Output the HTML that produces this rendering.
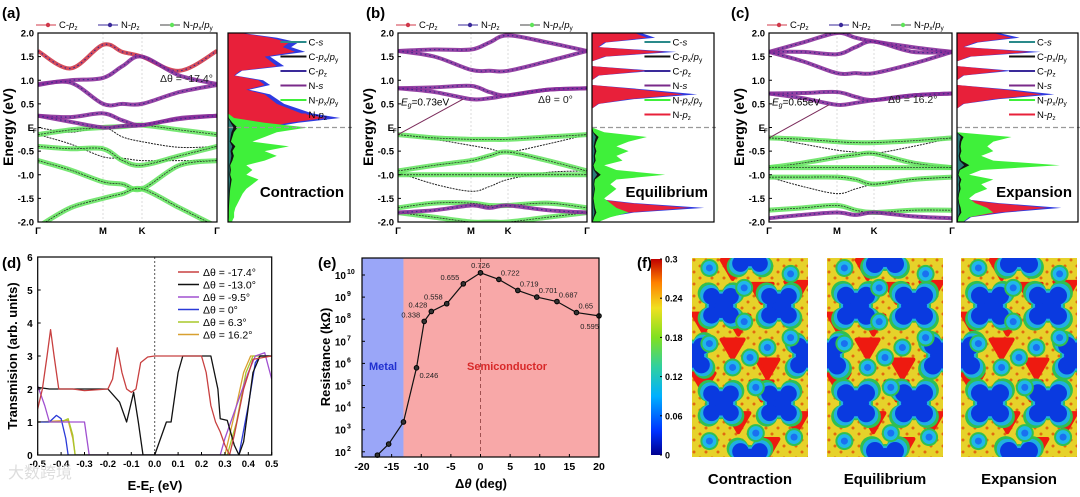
<!DOCTYPE html>
<html><head><meta charset="utf-8">
<style>
html,body{margin:0;padding:0;background:#fff;}
svg{display:block;font-family:"Liberation Sans",Arial,sans-serif;}
</style></head>
<body>
<svg id="fig" width="1080" height="497" viewBox="0 0 1080 497" xmlns="http://www.w3.org/2000/svg">
<g id="g"></g>
</svg>
<script>
// ---------------- DATA ----------------
const bandsA_cond=[[1.62,1.25,1.75,1.6,1.5,1.2,1.62],[0.92,1.0,1.05,1.3,1.5,1.1,0.92],[0.9,0.95,0.5,0.5,0.5,0.75,0.9],[0.25,0.22,0.3,0.15,0.05,0.2,0.25],[0.25,0.12,0.0,0.03,0.05,0.18,0.25]];
const bandsA_val=[[-0.15,-0.05,0,0.02,0.05,-0.05,-0.15],[-0.4,-0.45,-0.45,-0.7,-0.8,-0.6,-0.4],[-0.7,-0.9,-1.15,-1.2,-1.3,-0.8,-0.7],[-2.1,-1.7,-1.5,-1.4,-1.3,-1.7,-2.1]];
const bandsA_thin=[[-0.15,-0.35,-0.62,-0.65,-0.7,-0.7,-0.7],[0.0,-0.1,0.0,-0.2,-0.3,-0.42,-0.4]];
const bandsB_cond=[[1.62,1.65,1.65,1.8,1.95,1.8,1.62],[1.62,1.5,1.22,1.2,1.2,1.4,1.62],[0.83,0.85,0.88,0.75,0.68,0.8,0.83],[0.83,0.75,0.6,0.62,0.68,0.8,0.83],[-1.8,-1.75,-1.65,-1.7,-1.65,-1.75,-1.8]];
const bandsB_val=[[-0.15,-0.22,-0.25,-0.25,-0.25,-0.2,-0.15],[-0.92,-0.8,-0.7,-0.6,-0.52,-0.7,-0.92],[-1.0,-1.0,-1.0,-1.0,-1.0,-1.0,-1.0],[-1.7,-1.6,-1.6,-1.65,-1.65,-1.6,-1.7],[-1.8,-1.9,-2.0,-2.0,-2.0,-1.9,-1.8]];
const bandsB_thin=[[-0.15,-0.25,-0.38,-0.45,-0.52,-0.35,-0.15],[-0.95,-1.2,-1.35,-1.25,-1.1,-0.95,-0.92]];
const bandsC_cond=[[1.6,1.8,2.0,1.9,1.82,1.7,1.6],[1.6,1.6,1.55,1.7,1.82,1.6,1.6],[1.6,1.4,1.15,1.15,1.15,1.35,1.6],[0.72,0.73,0.75,0.65,0.58,0.68,0.72],[0.72,0.62,0.48,0.52,0.58,0.68,0.72],[-1.92,-1.85,-1.8,-1.85,-1.8,-1.88,-1.92]];
const bandsC_val=[[-0.22,-0.25,-0.3,-0.32,-0.32,-0.28,-0.22],[-0.85,-0.75,-0.63,-0.58,-0.55,-0.75,-0.85],[-0.85,-0.85,-0.85,-0.85,-0.85,-0.85,-0.85],[-1.05,-1.05,-1.05,-1.1,-1.2,-1.1,-1.05],[-1.75,-1.7,-1.65,-1.75,-1.8,-1.75,-1.75]];
const bandsC_thin=[[-0.22,-0.35,-0.48,-0.52,-0.55,-0.4,-0.22],[-1.05,-1.25,-1.4,-1.3,-1.2,-1.1,-1.05]];
// DOS profiles, energies 2.0 -> -2.0 step 0.1
const dosA_red=[0.1,0.35,0.5,0.45,0.55,0.3,0.35,0.4,0.1,0.05,0.25,0.3,0.15,0.3,0.35,0.4,0.5,0.6,0.8,0.5,0.3,0.05,0.05,0.04,0.04,0.03,0.03,0.03,0.03,0.03,0.03,0.03,0.03,0.03,0.03,0.03,0.03,0.03,0.03,0.03,0.03];
const dosA_green=[0,0,0,0,0,0,0,0,0,0,0,0,0,0,0,0,0,0,0.05,0.3,0.65,0.4,0.3,0.2,0.5,0.3,0.4,0.3,0.15,0.2,0.15,0.25,0.2,0.15,0.12,0.1,0.08,0.06,0.05,0.05,0.03];
const dosB_red=[0.35,0.45,0.1,0.05,0.6,0.1,0,0,0.45,0.05,0,0,0.4,0.75,0.3,0.05,0,0,0,0,0,0,0,0,0,0,0,0,0,0,0,0,0,0,0,0,0.3,0.8,0.3,0.1,0.05];
const dosB_green=[0,0,0,0,0,0,0,0,0,0,0,0,0,0,0,0,0,0,0,0,0,0.1,0.45,0.3,0.2,0.3,0.2,0.25,0.1,0.2,0.6,0.2,0.15,0.2,0.15,0.1,0.15,0.2,0.3,0.15,0.05];
const dosC_red=[0.3,0.45,0.15,0.05,0.6,0.1,0,0,0.4,0.05,0,0,0.4,0.7,0.3,0.05,0,0,0,0,0,0,0,0,0,0,0,0,0,0,0,0,0,0,0,0,0.3,0.75,0.35,0.1,0.05];
const dosC_green=[0,0,0,0,0,0,0,0,0,0,0,0,0,0,0,0,0,0,0,0,0,0,0.45,0.3,0.25,0.3,0.2,0.3,0.85,0.2,0.1,0.3,0.2,0.25,0.15,0.1,0.15,0.25,0.3,0.1,0.05];
// Panel d
const tX_red=[-0.5,-0.48,-0.46,-0.445,-0.43,-0.41,-0.35,-0.3,-0.2,-0.18,-0.16,-0.14,-0.12,-0.1,-0.08,-0.06,-0.03,0,0.2,0.22,0.24,0.26,0.28,0.3,0.32,0.34,0.38,0.42,0.5];
const tY_red=[1.4,2.0,3.0,3.8,3.0,2.0,2.0,1.95,2.0,2.3,3.25,2.5,2.0,1.9,2.0,2.8,2.97,3.0,3.0,2.5,1.5,1.0,0.7,0.3,0.0,0.6,2.0,2.9,3.0];
const tX_black=[-0.5,-0.45,-0.2,-0.15,-0.12,-0.09,-0.07,-0.05,-0.01,0.0,0.05,0.07,0.1,0.12,0.24,0.27,0.28,0.31,0.34,0.36,0.38,0.42,0.45,0.5];
const tY_black=[2.05,2.0,2.0,1.6,1.0,1.9,1.0,0.0,0.0,0.0,1.0,1.0,2.5,3.0,3.0,2.0,1.1,1.05,0.3,0.0,0.4,2.5,3.0,3.0];
const tX_purple=[-0.5,-0.47,-0.45,-0.3,-0.29,-0.28,0.28,0.3,0.35,0.4,0.43,0.47,0.5];
const tY_purple=[2.1,1.5,1.0,1.0,0.5,0.0,0.0,0.5,1.5,2.5,3.0,3.1,2.3];
const tX_blue=[-0.5,-0.45,-0.42,-0.4,-0.38,-0.37,0.36,0.4,0.43,0.45,0.5];
const tY_blue=[1.0,1.0,1.2,1.1,0.5,0.0,0.0,1.5,2.8,3.0,3.0];
const tX_lime=[-0.5,-0.4,-0.37,-0.35,-0.34,0.31,0.35,0.39,0.42,0.5];
const tY_lime=[1.0,1.0,1.1,0.6,0.0,0.0,1.0,2.5,3.0,3.0];
const tX_orange=[-0.5,-0.37,-0.35,-0.34,0.3,0.34,0.38,0.41,0.5];
const tY_orange=[1.0,1.05,0.5,0.0,0.0,1.2,2.5,3.0,3.0];
const tLegend=["\u0394\u03b8 = -17.4\u00b0","\u0394\u03b8 = -13.0\u00b0","\u0394\u03b8 = -9.5\u00b0","\u0394\u03b8 = 0\u00b0","\u0394\u03b8 = 6.3\u00b0","\u0394\u03b8 = 16.2\u00b0"];
const tXTicks=[-0.5,-0.4,-0.3,-0.2,-0.1,0.0,0.1,0.2,0.3,0.4,0.5];
const tYTicks=[0,1,2,3,4,5,6];
// Panel e
const rTheta=[-17.4,-15.5,-13,-10.8,-9.5,-8.3,-5.7,-2.9,0,3.1,6.3,9.5,12.9,16.2,20];
const rLog=[1.85,2.35,3.35,5.8,7.9,8.35,8.7,9.6,10.1,9.8,9.3,9.0,8.8,8.3,8.15];
const rGap=["","","","0.246","0.338","0.428","0.558","0.655","0.726","0.722","0.719","0.701","0.687","0.65","0.595"];
const rXTicks=[-20,-15,-10,-5,0,5,10,15,20];
const rYTicks=[2,3,4,5,6,7,8,9,10];
const cbTicks=["0","0.06","0.12","0.18","0.24","0.3"];

// ---------------- HELPERS ----------------
const NS="http://www.w3.org/2000/svg";
const G=document.getElementById('g');
function mk(tag,attrs,parent){const e=document.createElementNS(NS,tag);for(const k in attrs)e.setAttribute(k,attrs[k]);(parent||G).appendChild(e);return e;}
function txt(x,y,s,size,opts,parent){opts=opts||{};const t=mk('text',Object.assign({x:x,y:y,'font-size':size,fill:opts.fill||'#000','text-anchor':opts.anchor||'start','font-weight':opts.weight||'normal'},opts.extra||{}),parent);t.textContent=s;return t;}
function smooth(pts){let d='M'+pts[0][0]+','+pts[0][1];for(let i=0;i<pts.length-1;i++){const p0=pts[Math.max(0,i-1)],p1=pts[i],p2=pts[i+1],p3=pts[Math.min(pts.length-1,i+2)];const c1=[p1[0]+(p2[0]-p0[0])/6,p1[1]+(p2[1]-p0[1])/6],c2=[p2[0]-(p3[0]-p1[0])/6,p2[1]-(p3[1]-p1[1])/6];d+=' C'+c1[0]+','+c1[1]+' '+c2[0]+','+c2[1]+' '+p2[0]+','+p2[1];}return d;}
function lin(pts){return 'M'+pts.map(p=>p[0]+','+p[1]).join(' L');}

// ---------------- BAND PANELS ----------------
const panels=[
 {lab:'(a)',lx:2,x0:38,x1:217,M:103,K:142,d0:228,d1:350,cond:bandsA_cond,val:bandsA_val,thin:bandsA_thin,red:dosA_red,green:dosA_green,name:'Contraction',ang:'\u0394\u03b8 = -17.4\u00b0',angx:160,angy:82,eg:null},
 {lab:'(b)',lx:366,x0:398,x1:587,M:471,K:508,d0:592,d1:714,cond:bandsB_cond,val:bandsB_val,thin:bandsB_thin,red:dosB_red,green:dosB_green,name:'Equilibrium',ang:'\u0394\u03b8 = 0\u00b0',angx:538,angy:103,eg:'0.73eV',egE:0.6},
 {lab:'(c)',lx:731,x0:769,x1:952,M:837,K:874,d0:957,d1:1078,cond:bandsC_cond,val:bandsC_val,thin:bandsC_thin,red:dosC_red,green:dosC_green,name:'Expansion',ang:'\u0394\u03b8 = 16.2\u00b0',angx:888,angy:103,eg:'0.65eV',egE:0.48}
];
const Ey=E=>127.5-E*47.25;
panels.forEach((p,pi)=>{
  const grp=mk('g',{});
  
  
  txt(p.lx,18,p.lab,15,{weight:'bold'},grp);
  const kx=[p.x0,(p.x0+p.M)/2,p.M,(p.M+p.K)/2,p.K,(p.K+p.x1)/2,p.x1];
  const cid='clip'+pi;
  const cp=mk('clipPath',{id:cid},grp);mk('rect',{x:p.x0,y:33,width:p.x1-p.x0,height:189},cp);
  const bg=mk('g',{'clip-path':'url(#'+cid+')'},grp);
  [p.M,p.K].forEach(x=>mk('line',{x1:x,y1:33,x2:x,y2:222,stroke:'#ccc','stroke-dasharray':'2,2','stroke-width':0.7},bg));
  p.thin.forEach(b=>{const e=mk('path',{d:smooth(b.map((E,i)=>[kx[i],Ey(E)])),fill:'none',stroke:'#222','stroke-width':1,'stroke-dasharray':'2,1'},bg);});
  p.val.forEach(b=>{const d=smooth(b.map((E,i)=>[kx[i],Ey(E)]));
    const e=mk('path',{d:d,fill:'none',stroke:'#5fe35a','stroke-width':5,opacity:0.85},bg);
    mk('path',{d:d,fill:'none',stroke:'#222','stroke-width':0.7,'stroke-dasharray':'2,1'},bg);});
  p.cond.forEach((b,bi)=>{const d=smooth(b.map((E,i)=>[kx[i],Ey(E)]));
    const e=mk('path',{d:d,fill:'none',stroke:bi==0&&pi==0?'#d0384a':'#8a2f9a','stroke-width':4,opacity:0.9},bg);
    mk('path',{d:d,fill:'none',stroke:'#3a2a8a','stroke-width':1.2,'stroke-dasharray':'1.5,3'},bg);});
  if(p.eg){mk('line',{x1:p.x0,y1:Ey(-0.15-(pi==2?0.07:0)),x2:p.M-8,y2:Ey(p.egE),stroke:'#7a2a5a','stroke-width':1},grp);
    const t=txt(p.x0+3,Ey(0.55)+4,'',10,{},grp);t.innerHTML='<tspan font-style="italic">E</tspan><tspan font-size="7" dy="2" font-style="italic">g</tspan><tspan dy="-2">='+p.eg+'</tspan>';}
  txt(p.angx,p.angy,p.ang,10.5,{fill:'#222'},grp);
  mk('rect',{x:p.x0,y:33,width:p.x1-p.x0,height:189,fill:'none',stroke:'#000','stroke-width':1.2},grp);
  [2,1.5,1,0.5,0,-0.5,-1,-1.5,-2].forEach(E=>{const y=Ey(E);mk('line',{x1:p.x0,y1:y,x2:p.x0+3,y2:y,stroke:'#000'},grp);
    txt(p.x0-4,y+3.5,E==0?'E':E.toFixed(1),9.5,{anchor:'end',weight:'bold'},grp);
    if(E==0)txt(p.x0-5,y+5.5,'F',6,{weight:'bold'},grp);});
  txt(0,0,'Energy (eV)',14,{weight:'bold',anchor:'middle',extra:{transform:'translate('+(p.x0-25)+',127) rotate(-90)'}},grp);
  [[p.x0,'\u0393'],[p.M,'M'],[p.K,'K'],[p.x1,'\u0393']].forEach(a=>txt(a[0],234,a[1],9.5,{anchor:'middle',weight:'bold'},grp));
  const lg=[['#d0384a','C-p','z'],['#3a2a9a','N-p','z'],['#5fe35a','N-p','x/py']];
  lg.forEach((l,i)=>{const x=p.x0-2+i*62;const le=mk('g',{},grp);
    mk('line',{x1:x,y1:25,x2:x+20,y2:25,stroke:i==2?'#444':l[0],'stroke-width':1},le);mk('circle',{cx:x+12,cy:25,r:2.2,fill:l[0]},le);
    const t=txt(x+23,28,'',9.5,{},le);t.innerHTML=l[1].replace('p','<tspan font-style="italic">p</tspan>')+'<tspan font-size="6.5" dy="2">'+(i==2?'x':l[2])+'</tspan>'+(i==2?'<tspan dy="-2">/</tspan><tspan font-style="italic">p</tspan><tspan font-size="6.5" dy="2">y</tspan>':'');});
  // DOS
  const W=p.d1-p.d0;const dx=v=>p.d0+v*W;const ys=p.red.map((v,i)=>Ey(2-i*0.1));
  const shape=(arr,sc)=>{let pts=arr.map((v,i)=>[dx(v*sc),ys[i]]);return lin(pts)+' L'+p.d0+','+ys[ys.length-1]+' L'+p.d0+','+ys[0]+' Z';};
  const dc='dclip'+pi;const dcp=mk('clipPath',{id:dc},grp);mk('rect',{x:p.d0,y:33,width:W,height:189},dcp);
  const dg=mk('g',{'clip-path':'url(#'+dc+')'},grp);
  let e=mk('path',{d:shape(p.red,1.15),fill:'#2f3ae0','stroke-linejoin':'round'},dg);
  e=mk('path',{d:shape(p.red,1),fill:'#e8203a'},dg);
  e=mk('path',{d:shape(p.green,1),fill:'#3ff03a'},dg);
  mk('path',{d:shape(p.green,0.12),fill:'#111'},dg);mk('path',{d:shape(p.green,0.07),fill:'#2a7a78'},dg);
  mk('line',{x1:p.d0,y1:Ey(0),x2:p.d1+2,y2:Ey(0),stroke:'#999','stroke-dasharray':'5,3','stroke-width':1.2},grp);
  mk('rect',{x:p.d0,y:33,width:W,height:189,fill:'none',stroke:'#000','stroke-width':1.2},grp);
  const dl=[['#2a8a8a','C-','s',''],['#111','C-','p','x/py'],['#3a2a9a','C-','p','z'],['#7a2a8a','N-','s',''],['#3ff03a','N-','p','x/py'],['#e8203a','N-','p','z']];
  dl.forEach((l,i)=>{const y=42+i*14.5;const lx=p.d0+W*0.43;const le=mk('g',{},grp);
    mk('line',{x1:lx,y1:y,x2:lx+26,y2:y,stroke:l[0],'stroke-width':2},le);
    const t=txt(lx+28,y+3.5,'',9.5,{},le);let h=l[1]+'<tspan font-style="italic">'+l[2]+'</tspan>';
    if(l[3]=='z')h+='<tspan font-size="6.5" dy="2">z</tspan>';if(l[3]=='x/py')h+='<tspan font-size="6.5" dy="2">x</tspan><tspan dy="-2">/</tspan><tspan font-style="italic">p</tspan><tspan font-size="6.5" dy="2">y</tspan>';t.innerHTML=h;});
  txt(p.d1-6,197,p.name,15,{anchor:'end',weight:'bold'},grp);
});

// ---------------- PANEL D ----------------
(function(){
 const gd=mk('g',{});
 const X0=37.7,X1=271.7,Y0=455,Y1=257;
 const sx=v=>X0+(v+0.5)/1*(X1-X0),sy=v=>Y0-v/6*(Y0-Y1);
 txt(2,268,'(d)',15,{weight:'bold'},gd);
 mk('line',{x1:sx(0),y1:Y1,x2:sx(0),y2:Y0,stroke:'#555','stroke-dasharray':'2,2'},gd);
 const cid='dclipT';const cp=mk('clipPath',{id:cid},gd);mk('rect',{x:X0,y:Y1,width:X1-X0,height:Y0-Y1},cp);
 const lg=mk('g',{'clip-path':'url(#'+cid+')'},gd);
 const series=[[tX_orange,tY_orange,'#d8a030'],[tX_lime,tY_lime,'#a8c82a'],[tX_blue,tY_blue,'#2a3ad8'],[tX_purple,tY_purple,'#a050d0'],[tX_black,tY_black,'#111'],[tX_red,tY_red,'#c84040']];
 series.forEach(s=>{const e=mk('path',{d:lin(s[0].map((x,i)=>[sx(x),sy(s[1][i])])),fill:'none',stroke:s[2],'stroke-width':1.3,'stroke-linejoin':'round'},lg);});
 mk('rect',{x:X0,y:Y1,width:X1-X0,height:Y0-Y1,fill:'none',stroke:'#000','stroke-width':1.2},gd);
 tXTicks.forEach(v=>{mk('line',{x1:sx(v),y1:Y0,x2:sx(v),y2:Y0-3,stroke:'#000'},gd);txt(sx(v),Y0+12,v.toFixed(1),9.5,{anchor:'middle',weight:'bold'},gd);});
 tYTicks.forEach(v=>{mk('line',{x1:X0,y1:sy(v),x2:X0+3,y2:sy(v),stroke:'#000'},gd);txt(X0-5,sy(v)+4,String(v),10,{anchor:'end',weight:'bold'},gd);});
 txt(0,0,'Transmision (arb. units)',13,{weight:'bold',anchor:'middle',extra:{transform:'translate(17,356) rotate(-90)'}},gd);
 const xl=txt(155,490,'E-E',13,{weight:'bold',anchor:'middle'},gd);xl.innerHTML='E-E<tspan font-size="8" dy="3">F</tspan><tspan dy="-3"> (eV)</tspan>';
 const lc=['#c84040','#111','#a050d0','#2a3ad8','#a8c82a','#d8a030'];
 tLegend.forEach((s,i)=>{const y=272+i*12.5;const le=mk('g',{},gd);
   mk('line',{x1:178,y1:y,x2:199,y2:y,stroke:lc[i],'stroke-width':1.5},le);txt(203,y+4,s,10.5,{},le);});
 txt(8,478,'\u5927\u6570\u8de8\u5883',16,{fill:'#ddd',extra:{'font-family':'"Noto Sans CJK SC",sans-serif'}},gd);
})();

// ---------------- PANEL E ----------------
(function(){
 const ge=mk('g',{});
 const X0=362,X1=599,Y0=457,Y1=258;
 const sx=v=>X0+(v+20)/40*(X1-X0),sy=v=>275+(10-v)*22.1;
 txt(318,268,'(e)',15,{weight:'bold'},ge);
 let r=mk('rect',{x:X0,y:Y1,width:sx(-13)-X0,height:Y0-Y1,fill:'#9aa6f8'},ge);
 r=mk('rect',{x:sx(-13),y:Y1,width:X1-sx(-13),height:Y0-Y1,fill:'#f8a8a8'},ge);
 mk('line',{x1:sx(0),y1:Y1,x2:sx(0),y2:Y0,stroke:'#a05050','stroke-dasharray':'4,3'},ge);
 txt(369,370,'Metal',11,{fill:'#2030d0',weight:'bold'},ge);
 txt(467,370,'Semiconductor',11,{fill:'#d82828',weight:'bold'},ge);
 const l=mk('path',{d:'M'+rTheta.map((t,i)=>sx(t)+','+sy(rLog[i])).join(' L'),fill:'none',stroke:'#111','stroke-width':1.2},ge);
 
 rTheta.forEach((t,i)=>{const c=mk('circle',{cx:sx(t),cy:sy(rLog[i]),r:2.3,fill:'#333',stroke:'#000'},ge);
   if(rGap[i]){let dx=-4,dy=-4,a='end';if(i==3){dx=3;dy=10;a='start';}if(i==8){dx=0;dy=-5;a='middle';}if(i>8){dx=2;dy=-4;a='start';}if(i==14){dx=0;dy=13;a='end';}
   txt(sx(t)+dx,sy(rLog[i])+dy,rGap[i],7.5,{anchor:a,fill:'#222'},ge);}});
 mk('rect',{x:X0,y:Y1,width:X1-X0,height:Y0-Y1,fill:'none',stroke:'#000','stroke-width':1.2},ge);
 rXTicks.forEach(v=>{mk('line',{x1:sx(v),y1:Y0,x2:sx(v),y2:Y0-3,stroke:'#000'},ge);txt(sx(v),Y0+13,String(v),10.5,{anchor:'middle',weight:'bold'},ge);});
 rYTicks.forEach(v=>{mk('line',{x1:X0,y1:sy(v),x2:X0+3,y2:sy(v),stroke:'#000'},ge);txt(X0-16,sy(v)+4,'10',10,{anchor:'end',weight:'bold'},ge);txt(X0-15,sy(v)-1,String(v),7,{weight:'bold'},ge);});
 txt(0,0,'Resistance (k\u03a9)',13,{weight:'bold',anchor:'middle',extra:{transform:'translate(330,357) rotate(-90)'}},ge);
 const xl=txt(481,488,'',13,{weight:'bold',anchor:'middle'},ge);xl.innerHTML='\u0394<tspan font-style="italic">\u03b8</tspan> (deg)';
})();

// ---------------- PANEL F ----------------
(function(){
 const gf=mk('g',{});
 txt(637,268,'(f)',15,{weight:'bold'},gf);
 const defs=mk('defs',{},gf);
 const lgr=mk('linearGradient',{id:'cb',x1:0,y1:1,x2:0,y2:0},defs);
 [['0','#00008f'],['0.12','#0030ff'],['0.3','#00b0ff'],['0.45','#30d0a0'],['0.6','#80e020'],['0.75','#f0e020'],['0.88','#ff8000'],['1','#c00000']].forEach(s=>mk('stop',{offset:s[0],'stop-color':s[1]},lgr));
 const cb=mk('rect',{x:651,y:259,width:11,height:196,fill:'url(#cb)'},gf);
 cbTicks.forEach((s,i)=>{const y=455-i*39.2;mk('line',{x1:660,y1:y,x2:662,y2:y,stroke:'#000'},gf);txt(665,y+3.5,s,9,{weight:'bold'},gf);});
 const maps=[[692,'Contraction'],[827,'Equilibrium'],[961,'Expansion']];
 const cross=[[0.25,0.24],[0.75,0.24],[0.25,0.73],[0.75,0.73],[0.5,-0.02],[0.5,1.02],[0,0.49],[1,0.49]];
 const circ=[[0.45,0.15],[0.15,0.05],[0.85,0.08],[0.15,0.43],[0.5,0.5],[0.85,0.4],[0.35,0.55],[0.65,0.45],[0.15,0.92],[0.55,0.88],[0.88,0.9],[0.45,0.32],[0.55,0.65]];
 const tri=[[0.1,0.32],[0.4,0.33],[0.6,0.17],[0.9,0.16],[0.1,0.62],[0.4,0.82],[0.6,0.66],[0.9,0.82],[0.35,0.05],[0.65,0.95],[0.35,0.45],[0.65,0.55]];
 maps.forEach((m,mi)=>{
  const X=m[0],Y=258,W=116,H=199;const cid='fclip'+mi;const cp=mk('clipPath',{id:cid},gf);mk('rect',{x:X,y:Y,width:W,height:H},cp);
  const g=mk('g',{'clip-path':'url(#'+cid+')'},gf);
  mk('rect',{x:X,y:Y,width:W,height:H,fill:'#e6d22a'},g);
  for(let i=0;i<20;i++)for(let j=0;j<34;j++)if((i+j)%2==0)mk('circle',{cx:X+i*6+2,cy:Y+j*6+2,r:1.5,fill:'#e06a10'},g);
  tri.forEach(t=>{const cx=X+t[0]*W,cy=Y+t[1]*H;mk('path',{d:`M${cx-11},${cy-8} L${cx+11},${cy-8} L${cx},${cy+11} Z`,fill:'#ee1a10','stroke-linejoin':'round',stroke:'#ee1a10','stroke-width':4},g);});
  const sc=mi==0?1.05:1.12;
  [['#30c050',19],['#20b0e0',17],['#0a3ae0',14.5]].forEach(c=>{cross.forEach(p=>{const cx=X+p[0]*W,cy=Y+p[1]*H;const r=c[1]*sc;
    mk('circle',{cx:cx,cy:cy,r:r*0.8,fill:c[0]},g);
    [[1,1],[1,-1],[-1,1],[-1,-1]].forEach(d=>mk('circle',{cx:cx+d[0]*r*0.62,cy:cy+d[1]*r*0.62,r:r*0.55,fill:c[0]},g));});});
  circ.forEach(p=>{const cx=X+p[0]*W,cy=Y+p[1]*H;mk('circle',{cx:cx,cy:cy,r:9,fill:'#30c050'},g);mk('circle',{cx:cx,cy:cy,r:7,fill:'#20b8e8'},g);mk('circle',{cx:cx,cy:cy,r:3.5,fill:'#1a70f0'},g);});
  txt(X+W/2,484,m[1],15,{weight:'bold',anchor:'middle'},gf);
 });
})();
</script>
</body></html>
